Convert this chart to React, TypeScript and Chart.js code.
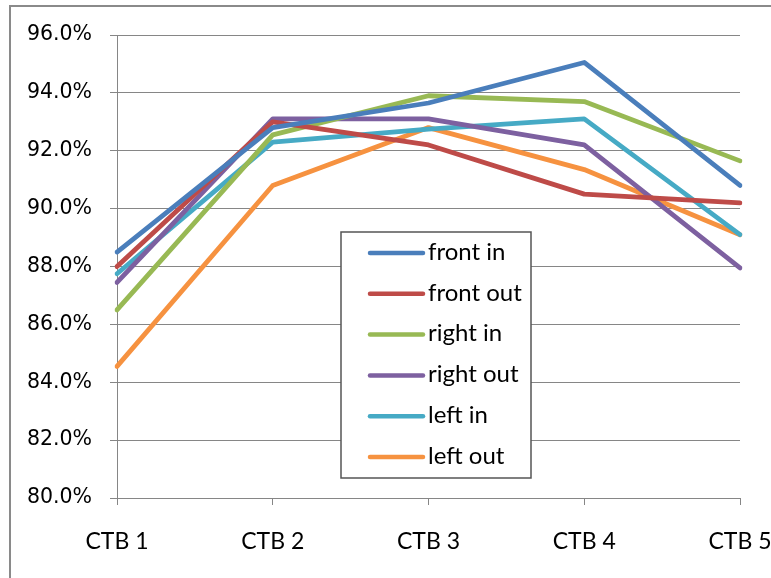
import React, { useEffect, useRef } from "react";
import { Chart, registerables } from "chart.js";

Chart.register(...registerables);

const categories = ["CTB 1", "CTB 2", "CTB 3", "CTB 4", "CTB 5"];
const seriesNames = ["front in", "front out", "right in", "right out", "left in", "left out"];
const frontIn = [88.5, 92.8, 93.65, 95.05, 90.8];
const frontOut = [88.0, 93.0, 92.2, 90.5, 90.2];
const rightIn = [86.5, 92.55, 93.9, 93.7, 91.65];
const rightOut = [87.45, 93.1, 93.1, 92.2, 87.95];
const leftIn = [87.75, 92.3, 92.75, 93.1, 89.1];
const leftOut = [84.55, 90.8, 92.8, 91.35, 89.1];
const seriesColors = ["#4A7EBB", "#BE4B48", "#98B954", "#7D60A0", "#46AAC5", "#F69240"];

const W = 771;
const H = 578;

const framePlugin = {
  id: "frame",
  beforeDraw(chart: any) {
    const ctx = chart.ctx;
    ctx.save();
    ctx.fillStyle = "#ffffff";
    ctx.fillRect(0, 0, chart.width, chart.height);
    ctx.strokeStyle = "#8a8a8a";
    ctx.lineWidth = 2;
    ctx.beginPath();
    ctx.moveTo(10, chart.height + 5);
    ctx.lineTo(10, 6);
    ctx.lineTo(chart.width + 5, 6);
    ctx.stroke();
    ctx.restore();
  },
};

const boxLegendPlugin = {
  id: "boxLegend",
  afterDatasetsDraw(chart: any) {
    const ctx = chart.ctx;
    const x0 = 341;
    const y0 = 232;
    const w = 190;
    const h = 246;
    ctx.save();
    ctx.fillStyle = "#ffffff";
    ctx.fillRect(x0, y0, w, h);
    ctx.strokeStyle = "#555555";
    ctx.lineWidth = 1.5;
    ctx.strokeRect(x0, y0, w, h);
    ctx.font = "24px Lato";
    ctx.textBaseline = "middle";
    ctx.fillStyle = "#000000";
    chart.data.datasets.forEach((ds: any, i: number) => {
      const y = 253 + i * 40.8;
      ctx.strokeStyle = ds.borderColor;
      ctx.lineWidth = 4.5;
      ctx.lineCap = "round";
      ctx.beginPath();
      ctx.moveTo(370, y);
      ctx.lineTo(423, y);
      ctx.stroke();
      ctx.fillText(ds.label, 428, y - 1);
    });
    ctx.restore();
  },
};

export default function App() {
  const ref = useRef<HTMLCanvasElement | null>(null);
  useEffect(() => {
    const values = [frontIn, frontOut, rightIn, rightOut, leftIn, leftOut];
    const chart = new Chart(ref.current as HTMLCanvasElement, {
      type: "line",
      data: {
        labels: categories,
        datasets: values.map((v, i) => ({
          label: seriesNames[i],
          data: v,
          borderColor: seriesColors[i],
          backgroundColor: seriesColors[i],
          borderWidth: 4.8,
          pointRadius: 0,
          tension: 0,
          borderJoinStyle: "round" as const,
          borderCapStyle: "round" as const,
        })),
      },
      options: {
        animation: false,
        responsive: false,
        layout: { padding: { left: 0, right: 0, top: 35, bottom: 0 } },
        plugins: { legend: { display: false }, tooltip: { enabled: false } },
        scales: {
          x: {
            offset: false,
            grid: { drawOnChartArea: false, drawTicks: true, tickLength: 7, color: "#868686" },
            border: { display: true, color: "#868686", width: 1 },
            ticks: { color: "#000", font: { family: "Lato", size: 23 }, padding: 23, maxRotation: 0 },
            afterFit: (s: any) => {
              s.height = H - 498;
              s.paddingRight = 31;
              s.paddingLeft = 0;
            },
          },
          y: {
            min: 80,
            max: 96,
            grid: { color: "#868686", tickLength: 7 },
            border: { display: true, color: "#868686", width: 1 },
            ticks: {
              stepSize: 2,
              color: "#000",
              font: { family: "DejaVu Sans", size: 20.5 },
              padding: 18,
              callback: (v: any) => Number(v).toFixed(1) + "%",
            },
            afterFit: (s: any) => {
              s.width = 117;
              s.paddingTop = 0;
              s.paddingBottom = 0;
            },
          },
        },
      },
      plugins: [framePlugin, boxLegendPlugin],
    });
    return () => chart.destroy();
  }, []);
  return (
    <div style={{ position: "fixed", left: 0, top: 0, width: W, height: H }}>
      <canvas ref={ref} width={W} height={H} style={{ width: W, height: H, display: "block" }} />
    </div>
  );
}
